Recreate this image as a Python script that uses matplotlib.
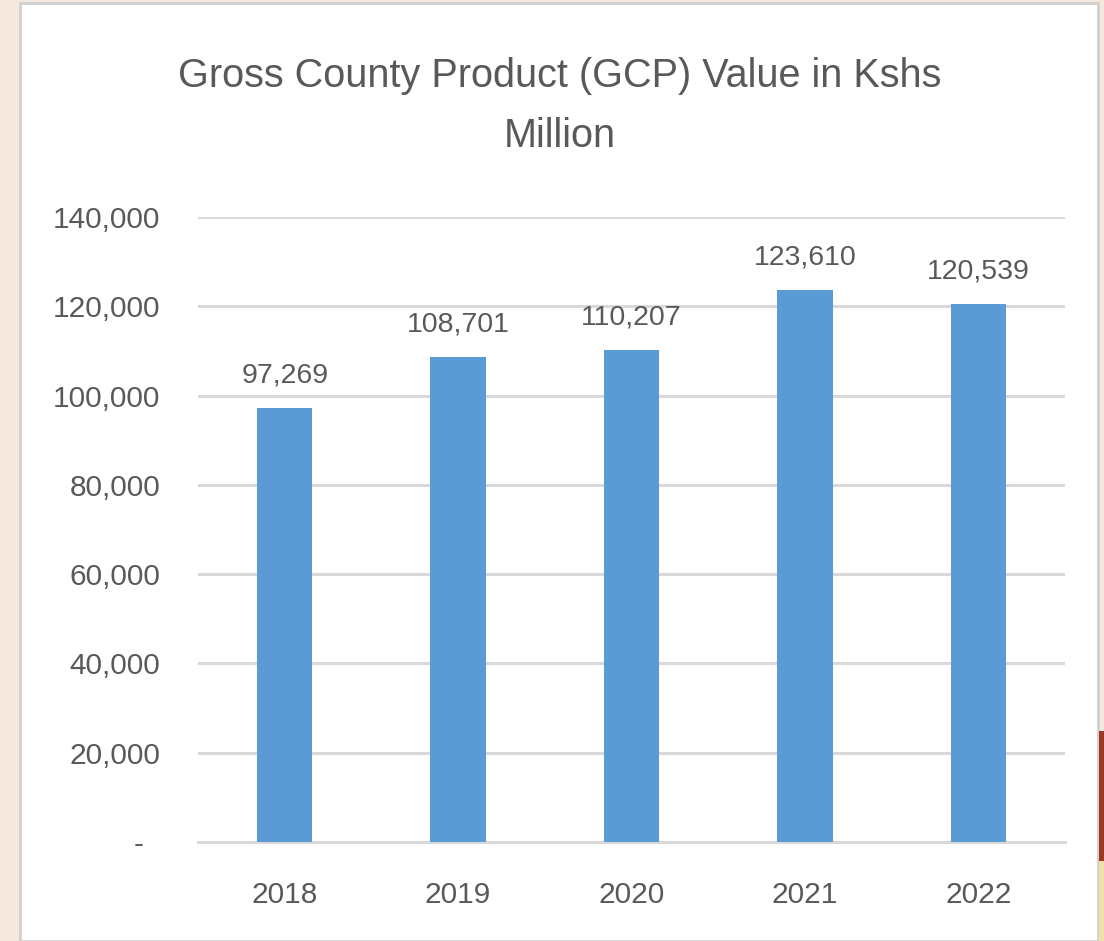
import matplotlib
matplotlib.use("Agg")
import matplotlib.pyplot as plt
from matplotlib.patches import Rectangle
from matplotlib.ticker import FuncFormatter

# chart data
years = ["2018", "2019", "2020", "2021", "2022"]
gcp_values = [97269, 108701, 110207, 123610, 120539]
y_ticks = [0, 20000, 40000, 60000, 80000, 100000, 120000, 140000]

text_color = "#595959"
bar_color = "#5B9BD5"
grid_color = "#D9D9D9"

plt.rcParams["font.family"] = ["Liberation Sans", "DejaVu Sans"]

fig = plt.figure(figsize=(11.04, 9.41), dpi=100)
fig.patch.set_facecolor("#F4E8DF")

# white chart panel sitting on the faded background
fig.patches.append(Rectangle((20 / 1104, 0), 1078 / 1104, 938 / 941,
                             transform=fig.transFigure, facecolor="white",
                             edgecolor="#D0D0D0", linewidth=2, zorder=0))
# bits of the picture peeking out on the right edge
fig.patches.append(Rectangle((1099 / 1104, 80 / 941), 5 / 1104, 130 / 941,
                             transform=fig.transFigure, facecolor="#9B3A22",
                             edgecolor="none", zorder=0))
fig.patches.append(Rectangle((1099 / 1104, 0), 5 / 1104, 80 / 941,
                             transform=fig.transFigure, facecolor="#F3DFA8",
                             edgecolor="none", zorder=0))

ax = fig.add_axes([198 / 1104, 99 / 941, 867 / 1104, 625 / 941])
ax.set_zorder(2)
ax.set_facecolor("none")

x = range(len(years))
bars = ax.bar(x, gcp_values, width=0.32, color=bar_color, zorder=3)

# value labels above each bar
for rect, val in zip(bars, gcp_values):
    ax.annotate(f"{val:,}", (rect.get_x() + rect.get_width() / 2, val),
                xytext=(0, 14), textcoords="offset points", ha="center",
                va="bottom", fontsize=20.5, color=text_color)

ax.set_xlim(-0.5, len(years) - 0.5)
ax.set_ylim(0, 140000)
ax.set_xticks(list(x))
ax.set_xticklabels(years)
ax.set_yticks(y_ticks)
ax.yaxis.set_major_formatter(FuncFormatter(lambda v, p: "-  " if v == 0 else f"{int(v):,}"))

ax.grid(axis="y", color=grid_color, linewidth=2.2, zorder=0)
ax.set_axisbelow(True)
for side in ["top", "right", "left"]:
    ax.spines[side].set_visible(False)
ax.spines["bottom"].set_color(grid_color)
ax.spines["bottom"].set_linewidth(2.2)

ax.tick_params(axis="both", length=0, labelsize=21.5, labelcolor=text_color)
ax.tick_params(axis="y", pad=27)
ax.tick_params(axis="x", pad=28)

fig.text(560 / 1104, 1 - 106 / 941, "Gross County Product (GCP) Value in Kshs\nMillion",
         ha="center", va="center", fontsize=28.5, color=text_color, linespacing=1.75)

plt.savefig("out.png", dpi=100, facecolor=fig.get_facecolor())
